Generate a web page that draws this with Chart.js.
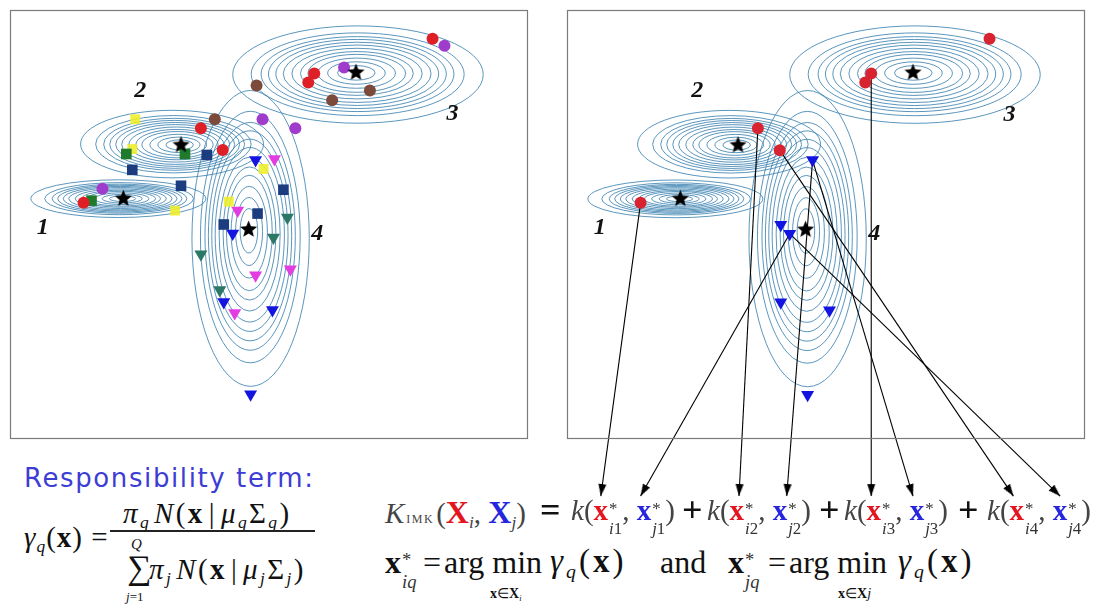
<!DOCTYPE html>
<html>
<head>
<meta charset="utf-8">
<script src="https://cdn.jsdelivr.net/npm/chart.js@4.4.1/dist/chart.umd.min.js"></script>
<style>
  body { margin: 0; background: #fff; }
  #page { position: relative; width: 1108px; height: 604px; overflow: hidden; font-family: 'Liberation Serif', serif; color: #111; }
  canvas { position: absolute; }
  .t { position: absolute; white-space: nowrap; line-height: 1; }
  sub { font-size: 60%; vertical-align: -0.3em; line-height: 0; }
  .ss { display: inline-flex; flex-direction: column; font-size: 58%; line-height: 1.2; vertical-align: 0.38em; margin-left: 1px; color: #333; font-weight: normal; }
  .r { color: #e3151f; font-weight: bold; }
  .b { color: #2626de; font-weight: bold; }
  .g { color: #444; }
  .f29 { font-size: 29px; letter-spacing: 1px; }
  .fr { font-size: 29px; letter-spacing: 2.4px; }
  .f32 { font-size: 32px; }
  .gm { font-size: 33px; letter-spacing: 3px; }
  .op { font-size: 36px; font-weight: bold; color: #111; }
</style>
</head>
<body>
<div id="page">
  <canvas id="left" width="540" height="450" style="left:0;top:0"></canvas>
  <canvas id="right" width="551" height="520" style="left:557px;top:0"></canvas>

  <div class="t" style="left:24px;top:463px;font:26px 'DejaVu Sans',sans-serif;letter-spacing:1.6px;color:#3d3dd4">Responsibility term:</div>
  <div class="t f29" style="left:24px;top:523px"><i>γ</i><sub><i>q</i></sub>(<b>x</b>) =</div>
  <div class="t fr" style="left:123px;top:499px"><i>π</i><sub><i>q</i></sub><i style="margin-left:3px">N</i>(<b>x</b><span style="margin:0 4px">|</span><i>μ</i><sub><i>q</i></sub>Σ<sub><i>q</i></sub>)</div>
  <div style="position:absolute;left:110px;top:530px;width:205px;height:1.5px;background:#222"></div>
  <div class="t" style="left:131px;top:537px;font-size:15px"><i>Q</i></div>
  <div class="t" style="left:127px;top:551px;font-size:34px">∑</div>
  <div class="t fr" style="left:149px;top:555px"><i>π</i><sub><i>j</i></sub><i style="margin-left:3px">N</i>(<b>x</b><span style="margin:0 4px">|</span><i>μ</i><sub><i>j</i></sub>Σ<sub><i>j</i></sub>)</div>
  <div class="t" style="left:126px;top:590px;font-size:13px"><i>j</i>=1</div>

  <div class="t g" style="left:385px;top:496px;font-size:29px"><i>K</i><span style="font-size:12px;letter-spacing:1.5px;margin:0 2px">IMK</span>(<span class="r" style="font-size:32px">X</span><sub><i>i</i></sub>, <span class="b" style="font-size:32px">X</span><sub><i>j</i></sub>)</div>
  <div class="t op" style="left:540px;top:492px">=</div>
  <div id="terms"></div>

  <div class="t f32" style="left:385px;top:546px"><b>x</b><span class="ss"><span>*</span><span><i>iq</i></span></span></div>
  <div class="t f32" style="left:423px;top:546px">=</div>
  <div class="t f32" style="left:444px;top:546px">arg min</div>
  <div class="t gm" style="left:550px;top:545px"><i>γ</i><sub><i>q</i></sub>(<b>x</b>)</div>
  <div class="t f32" style="left:660px;top:546px">and</div>
  <div class="t f32" style="left:728px;top:546px"><b>x</b><span class="ss"><span>*</span><span><i>jq</i></span></span></div>
  <div class="t f32" style="left:768px;top:546px">=</div>
  <div class="t f32" style="left:789px;top:546px">arg min</div>
  <div class="t gm" style="left:898px;top:545px"><i>γ</i><sub><i>q</i></sub>(<b>x</b>)</div>
  <div class="t" style="left:490px;top:587px;font-size:14px"><b>x</b>∈<b>X</b><sub><i>i</i></sub></div>
  <div class="t" style="left:838px;top:587px;font-size:14px"><b>x</b>∈<b>X</b><i>j</i></div>
</div>
<script>
// ---- data (panel units: x 0..520, y 0..431, y upwards) ----
const compNames = ['1', '2', '3', '4'];
const compX = [109, 163, 350, 242];      // centre of outer contour
const compY = [241, 296, 366, 201];
const compRX = [88, 92, 126, 59];        // outer contour half-widths
const compRY = [19, 34, 49, 149];
const starX = [114, 172, 348, 240];      // component means
const starY = [241, 295, 368, 210];
const labelX = [33, 131, 445, 309];
const labelY = [212, 350, 326, 206];
const ringLevels = [0.15, 0.23, 0.31, 0.39, 0.45, 0.52, 0.59, 0.65, 0.71, 0.77, 0.85, 1.0];

const redX = [74, 192, 214, 306, 300, 425];
const redY = [237, 312, 290, 367, 358, 402];
const purpleX = [93, 254, 287, 336, 437];
const purpleY = [251, 321, 312, 373, 395];
const brownX = [248, 206, 362, 324];
const brownY = [355, 321, 350, 340];
const greenX = [117, 176, 82];
const greenY = [286, 286, 239];
const yellowX = [126, 123, 166, 255, 220];
const yellowY = [321, 291, 229, 271, 238];
const navyX = [198, 123, 172, 275, 249, 215];
const navyY = [285, 270, 254, 250, 226, 215];
const blueTriX = [247, 224, 215, 264, 242];
const blueTriY = [280, 206, 137, 129, 44];
const magentaTriX = [266, 229, 282, 247, 226];
const magentaTriY = [281, 229, 170, 164, 126];
const tealTriX = [279, 265, 192, 211];
const tealTriY = [222, 202, 185, 149];

// right panel: selected points per component
const selRedX = [74, 192, 214, 306, 300, 425];
const selRedY = [237, 312, 290, 367, 358, 402];
const selBlueX = [247, 215, 224, 215, 264, 242];
const selBlueY = [280, 215, 206, 137, 129, 44];

// arrows from selected points to kernel terms
const arrowFromX = [74, 224, 192, 247, 306, 247, 214, 224];
const arrowFromY = [237, 206, 312, 280, 367, 280, 290, 206];
const arrowToX = [34, 74, 173, 221, 306, 348, 449, 496];
const arrowToY = [-58, -58, -58, -58, -58, -58, -58, -58];

const pts = (xs, ys) => xs.map((x, i) => ({ x, y: ys[i] }));

// ---- marker images ----
function starImage(size) {
  const c = document.createElement('canvas');
  c.width = c.height = size;
  const g = c.getContext('2d');
  const r = size / 2, ri = r * 0.42;
  g.beginPath();
  for (let k = 0; k < 10; k++) {
    const a = -Math.PI / 2 + k * Math.PI / 5;
    const rr = k % 2 ? ri : r - 0.5;
    g.lineTo(r + rr * Math.cos(a), r + rr * Math.sin(a));
  }
  g.closePath();
  g.fillStyle = '#000';
  g.fill();
  return c;
}
function arrowHead() {
  // tip sits at the centre of the image, body above it (points down)
  const c = document.createElement('canvas');
  c.width = 10; c.height = 26;
  const g = c.getContext('2d');
  g.beginPath();
  g.moveTo(5, 13); g.lineTo(1, 1); g.lineTo(9, 1); g.closePath();
  g.fillStyle = '#000';
  g.fill();
  return c;
}
const STAR = starImage(19);
const HEAD = arrowHead();

// ---- plugins ----
const contours = {
  id: 'contours',
  beforeDatasetsDraw(chart) {
    const { ctx, scales: { x, y } } = chart;
    const l = x.getPixelForValue(0), r = x.getPixelForValue(520);
    const t = y.getPixelForValue(431), b = y.getPixelForValue(0);
    ctx.save();
    ctx.beginPath();
    ctx.rect(l, t, r - l, b - t);
    ctx.clip();
    ctx.strokeStyle = 'rgba(62,132,178,0.85)';
    ctx.lineWidth = 1;
    compX.forEach((cx, i) => {
      ringLevels.forEach(f => {
        const mx = starX[i] + f * (cx - starX[i]);
        const my = starY[i] + f * (compY[i] - starY[i]);
        const px = x.getPixelForValue(mx), py = y.getPixelForValue(my);
        const rx = Math.abs(x.getPixelForValue(mx + compRX[i] * f) - px);
        const ry = Math.abs(y.getPixelForValue(my + compRY[i] * f) - py);
        ctx.beginPath();
        ctx.ellipse(px, py, rx, ry, 0, 0, Math.PI * 2);
        ctx.stroke();
      });
    });
    ctx.restore();
  },
  afterDatasetsDraw(chart) {
    const { ctx, scales: { x, y } } = chart;
    ctx.save();
    ctx.font = 'italic bold 24px "Liberation Serif"';
    ctx.fillStyle = '#111';
    ctx.textAlign = 'center';
    ctx.textBaseline = 'middle';
    compNames.forEach((n, i) => ctx.fillText(n, x.getPixelForValue(labelX[i]), y.getPixelForValue(labelY[i])));
    const l = x.getPixelForValue(0), r = x.getPixelForValue(520);
    const t = y.getPixelForValue(431), b = y.getPixelForValue(0);
    ctx.strokeStyle = '#7a7a7a';
    ctx.lineWidth = 1.2;
    ctx.strokeRect(Math.round(l) + 0.5, Math.round(t) + 0.5, Math.round(r - l), Math.round(b - t));
    ctx.restore();
  }
};

function markers(data, color, style, radius, rotation) {
  return {
    data, pointStyle: style, pointRadius: radius, pointRotation: rotation || 0,
    pointBackgroundColor: color, pointBorderWidth: 0, showLine: false
  };
}
const stars = () => ({ data: pts(starX, starY), pointStyle: STAR, pointRadius: 9, showLine: false });

function arrowRotation(ctx) {
  const d = ctx.dataset.data, xs = ctx.chart.scales.x, ys = ctx.chart.scales.y;
  const dx = xs.getPixelForValue(d[1].x) - xs.getPixelForValue(d[0].x);
  const dy = ys.getPixelForValue(d[1].y) - ys.getPixelForValue(d[0].y);
  return Math.atan2(-dx, dy) * 180 / Math.PI;
}
const arrows = arrowFromX.map((fx, i) => ({
  data: [{ x: fx, y: arrowFromY[i] }, { x: arrowToX[i], y: arrowToY[i] }],
  showLine: true, borderColor: '#000', borderWidth: 1.1, clip: false,
  pointRadius: [0, 5], pointStyle: HEAD, pointRotation: arrowRotation
}));

function panel(id, datasets, yMin, padding) {
  return new Chart(document.getElementById(id), {
    type: 'scatter',
    data: { datasets },
    options: {
      responsive: false,
      animation: false,
      devicePixelRatio: 1,
      events: [],
      layout: { padding },
      plugins: { legend: { display: false }, tooltip: { enabled: false } },
      scales: {
        x: { type: 'linear', min: 0, max: 520, display: false },
        y: { type: 'linear', min: yMin, max: 431, display: false }
      }
    },
    plugins: [contours]
  });
}

panel('left', [
  stars(),
  markers(pts(redX, redY), '#de2026', 'circle', 6),
  markers(pts(purpleX, purpleY), '#a03ccc', 'circle', 6),
  markers(pts(brownX, brownY), '#7b4a3a', 'circle', 6),
  markers(pts(greenX, greenY), '#1f7a2c', 'rect', 7.5),
  markers(pts(yellowX, yellowY), 'rgba(238,238,40,0.88)', 'rect', 7),
  markers(pts(navyX, navyY), '#1c3c80', 'rect', 7.5),
  markers(pts(blueTriX, blueTriY), '#1414e0', 'triangle', 7.5, 180),
  markers(pts(magentaTriX, magentaTriY), '#e23ce2', 'triangle', 7.5, 180),
  markers(pts(tealTriX, tealTriY), '#2c7866', 'triangle', 7.5, 180)
], 0, { left: 7, top: 7, right: 13, bottom: 12 });

panel('right', [
  stars(),
  markers(pts(selRedX, selRedY), '#d82430', 'circle', 6),
  markers(pts(selBlueX, selBlueY), '#1414e0', 'triangle', 7.5, 180),
  ...arrows
], -70, { left: 7, top: 7, right: 24, bottom: 12 });

// kernel terms k(x*_iq, x*_jq)
const termLeft = [571, 707, 844, 987];
const plusLeft = [682, 819, 958];
const terms = document.getElementById('terms');
termLeft.forEach((lx, q) => {
  const n = q + 1;
  terms.insertAdjacentHTML('beforeend',
    `<div class="t g" style="left:${lx}px;top:496px;font-size:29px"><i>k</i>(<span class="r">x</span><span class="ss"><span>*</span><span><i>i</i>${n}</span></span>, <span class="b">x</span><span class="ss"><span>*</span><span><i>j</i>${n}</span></span>)</div>`);
});
plusLeft.forEach(lx => terms.insertAdjacentHTML('beforeend',
  `<div class="t op" style="left:${lx}px;top:492px">+</div>`));
</script>
</body>
</html>
